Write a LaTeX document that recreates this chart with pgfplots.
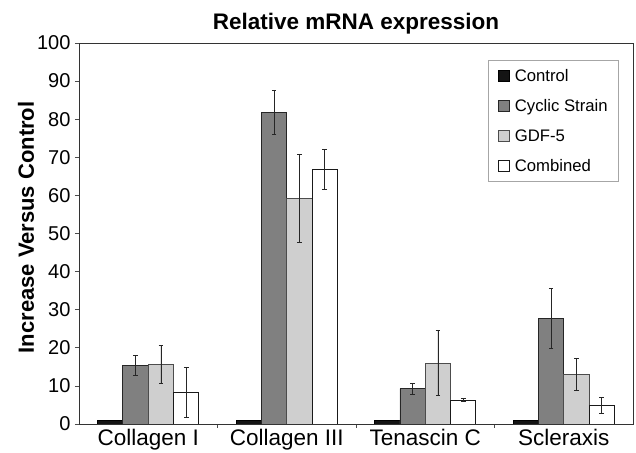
\documentclass[border=0pt]{standalone}
\usepackage{fontspec}
\setmainfont{Liberation Sans}
\usepackage{pgfplots}
\pgfplotsset{compat=1.18}
\definecolor{cctrl}{HTML}{141414}
\definecolor{ccyc}{HTML}{808080}
\definecolor{cgdf}{HTML}{CFCFCF}
\definecolor{ccomb}{HTML}{FFFFFF}
\pgfplotsset{eb/.style={error bars/.cd, y dir=both, y explicit,
  error bar style={line width=0.8bp, black!85},
  error mark options={rotate=90, mark size=2.3bp, line width=0.8bp, black!85}}}
\begin{document}
\begin{tikzpicture}[x=1bp,y=1bp]
\useasboundingbox (-79,-29) rectangle (557,424);
\begin{axis}[
  at={(0,0)}, anchor=south west,
  scale only axis, width=554bp, height=381bp,
  ybar=0pt, bar width=25.3bp,
  xmin=-0.5, xmax=3.5, ymin=0, ymax=100,
  xtick={0.5,1.5,2.5}, xticklabels={},
  extra x ticks={0,1,2,3},
  extra x tick labels={Collagen I, Collagen III, Tenascin C, Scleraxis},
  extra x tick style={major tick length=0pt, xticklabel style={font=\fontsize{22.5bp}{26bp}\selectfont, yshift=-2bp}},
  ytick={0,10,...,100},
  xtick pos=bottom, ytick pos=left, tick align=outside,
  major tick length=4bp,
  tick style={black!70, line width=0.6bp},
  axis line style={black!80, line width=0.9bp},
  yticklabel style={font=\fontsize{20bp}{24bp}\selectfont, xshift=-1bp},
  /pgf/number format/assume math mode=true,
  title={\textbf{Relative mRNA expression}},
  title style={font=\fontsize{22.5bp}{26bp}\selectfont, at={(axis description cs:0.5,1)}, anchor=base, yshift=8bp},
  ylabel={\textbf{Increase Versus Control}},
  ylabel style={font=\fontsize{22bp}{26bp}\selectfont, at={(axis description cs:-0.0957,0.516)}, anchor=center},
  legend style={at={(axis description cs:0.9747,0.9555)}, anchor=north east,
    font=\fontsize{16.7bp}{20bp}\selectfont, draw=black!35, line width=0.7bp,
    row sep=12.5bp, column sep=3bp, inner xsep=9bp, inner ysep=7bp},
  legend cell align=left,
  legend image code/.code={\draw[#1, line width=1.2bp] (0bp,-5.5bp) rectangle (11bp,5.5bp);},
]
\addplot[fill=cctrl, draw=black, line width=0.6bp] coordinates {(0,1) (1,1) (2,1) (3,1)};
\addlegendentry{Control}
\addplot[fill=ccyc, draw=black!85, line width=0.9bp, eb] coordinates {
  (0,15.3) +- (0,2.6)
  (1,81.8) +- (0,5.8)
  (2,9.3) +- (0,1.45)
  (3,27.7) +- (0,7.9)};
\addlegendentry{Cyclic Strain}
\addplot[fill=cgdf, draw=black!70, line width=0.9bp, eb] coordinates {
  (0,15.7) +- (0,5.0)
  (1,59.2) +- (0,11.6)
  (2,16.0) +- (0,8.6)
  (3,13.0) +- (0,4.2)};
\addlegendentry{GDF-5}
\addplot[fill=ccomb, draw=black!90, line width=0.9bp, eb] coordinates {
  (0,8.3) +- (0,6.5)
  (1,66.8) +- (0,5.2)
  (2,6.3) +- (0,0.4)
  (3,4.8) +- (0,2.1)};
\addlegendentry{Combined}
\end{axis}
\end{tikzpicture}
\end{document}
